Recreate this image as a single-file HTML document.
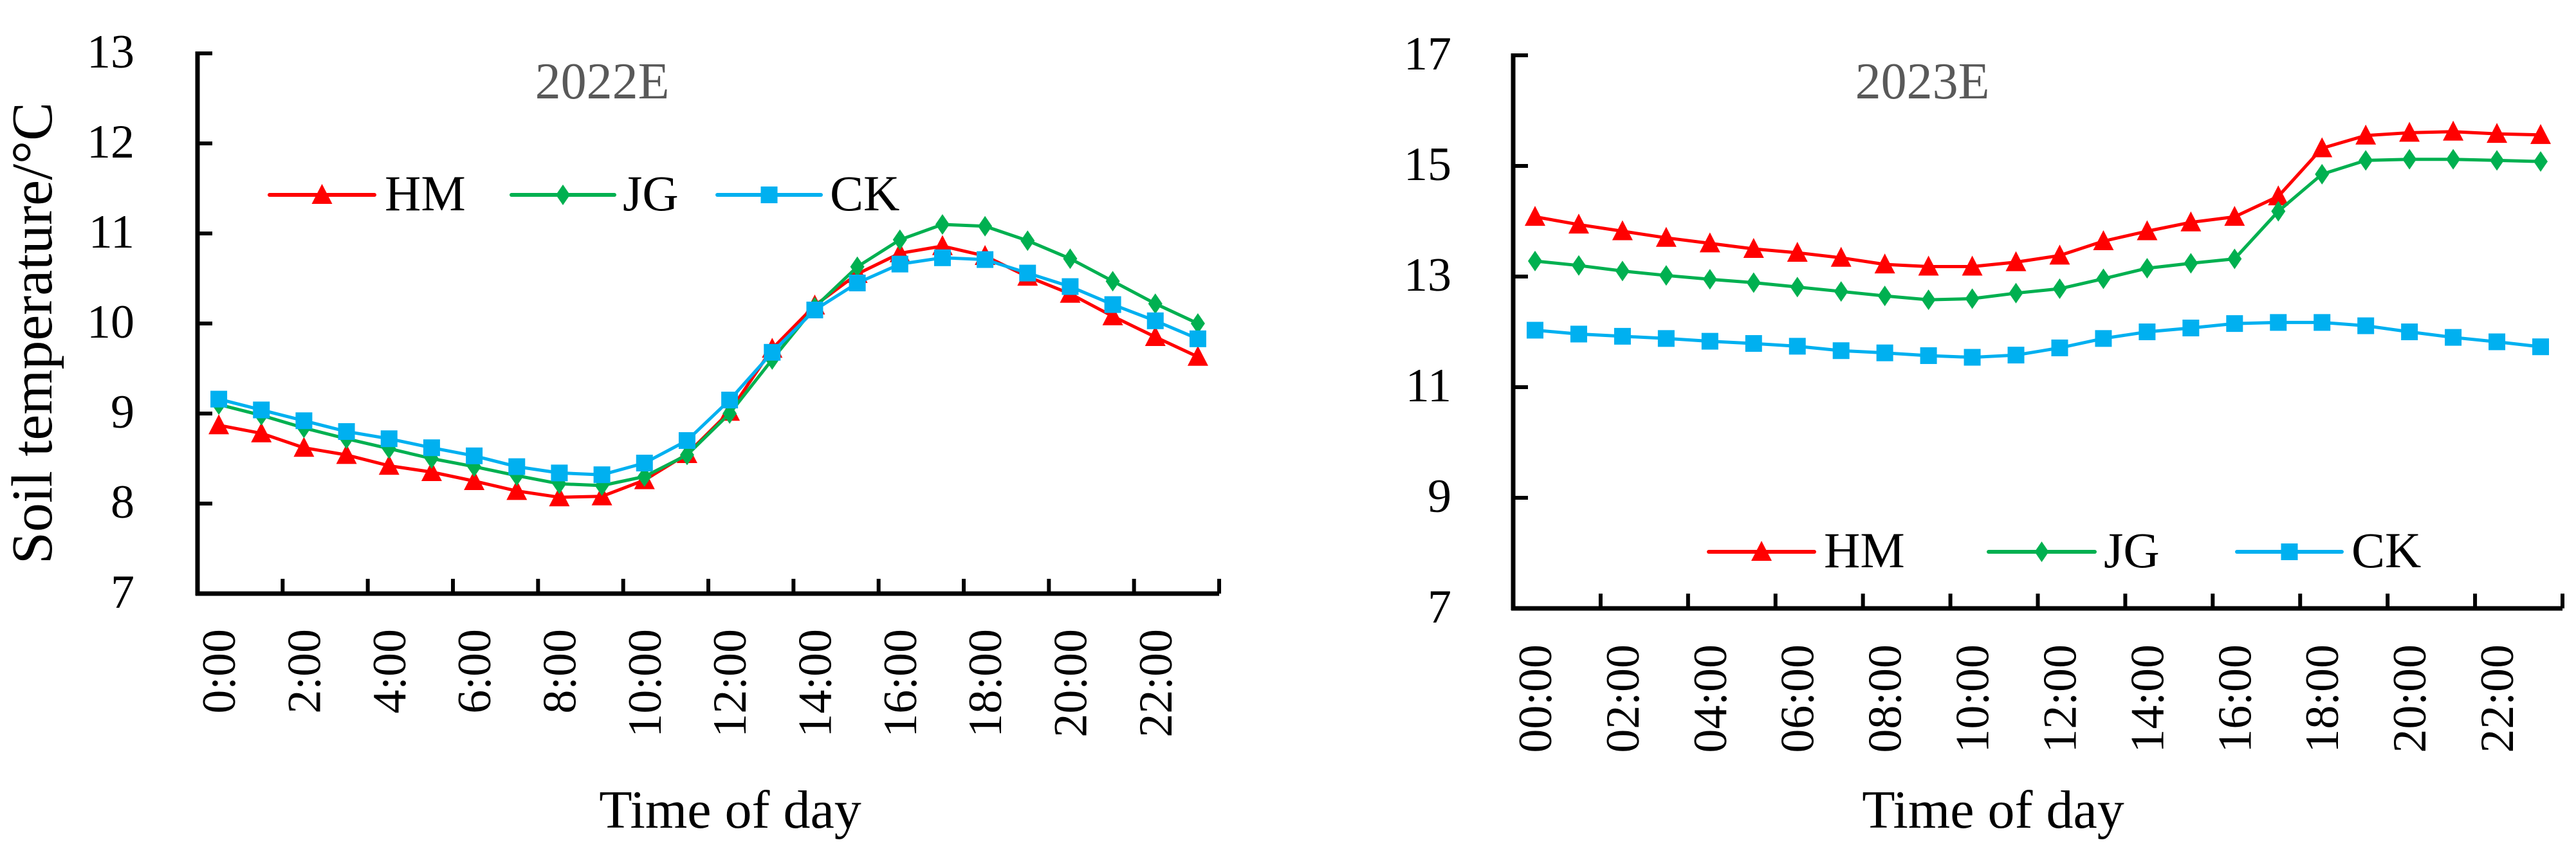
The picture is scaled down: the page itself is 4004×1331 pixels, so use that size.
<!DOCTYPE html>
<html><head><meta charset="utf-8"><style>
html,body{margin:0;padding:0;background:#fff;}
svg{display:block;}
text{font-family:"Liberation Serif",serif;}
</style></head><body>
<svg id="chart" width="4004" height="1331" viewBox="0 0 4004 1331" xmlns="http://www.w3.org/2000/svg">
<g id="left"></g>
<g id="right"></g>
</svg>
<script>
const categoriesLeft = ["0:00","1:00","2:00","3:00","4:00","5:00","6:00","7:00","8:00","9:00","10:00","11:00","12:00","13:00","14:00","15:00","16:00","17:00","18:00","19:00","20:00","21:00","22:00","23:00"];
const categoriesRight = ["00:00","01:00","02:00","03:00","04:00","05:00","06:00","07:00","08:00","09:00","10:00","11:00","12:00","13:00","14:00","15:00","16:00","17:00","18:00","19:00","20:00","21:00","22:00","23:00"];
const hm2022 = [8.87,8.78,8.62,8.54,8.42,8.35,8.25,8.14,8.07,8.08,8.26,8.55,9.02,9.72,10.2,10.55,10.78,10.86,10.75,10.52,10.33,10.08,9.85,9.63];
const jg2022 = [9.1,8.98,8.84,8.72,8.61,8.5,8.41,8.31,8.22,8.2,8.3,8.54,9.0,9.6,10.18,10.63,10.93,11.1,11.08,10.92,10.72,10.47,10.22,10.0];
const ck2022 = [9.16,9.04,8.92,8.8,8.72,8.62,8.53,8.41,8.34,8.32,8.45,8.7,9.15,9.68,10.15,10.45,10.66,10.73,10.71,10.56,10.41,10.21,10.03,9.83];
const hm2023 = [14.08,13.94,13.82,13.7,13.6,13.5,13.43,13.34,13.22,13.18,13.18,13.26,13.38,13.64,13.82,13.98,14.08,14.45,15.32,15.55,15.6,15.62,15.58,15.56];
const jg2023 = [13.28,13.2,13.1,13.02,12.95,12.89,12.81,12.73,12.65,12.58,12.6,12.7,12.78,12.96,13.15,13.24,13.32,14.18,14.85,15.1,15.12,15.12,15.1,15.08];
const ck2023 = [12.03,11.96,11.92,11.88,11.83,11.79,11.74,11.66,11.62,11.57,11.54,11.58,11.71,11.88,12.0,12.07,12.15,12.17,12.17,12.11,12.0,11.9,11.82,11.73];
const yTicksLeft = [7,8,9,10,11,12,13];
const yTicksRight = [7,9,11,13,15,17];
const seriesNames = ["HM","JG","CK"];

const NS="http://www.w3.org/2000/svg";
const COLORS={HM:"#ff0000",JG:"#00b050",CK:"#00b0f0"};
function mk(parent,tag,attrs,txt){const e=document.createElementNS(NS,tag);for(const k in attrs)e.setAttribute(k,attrs[k]);if(txt!==undefined)e.textContent=txt;parent.appendChild(e);return e;}
function marker(g,name,x,y){
  let m;
  if(name==="HM") m=mk(g,"polygon",{points:`${x},${y-17} ${x-16},${y+14} ${x+16},${y+14}`,fill:COLORS.HM});
  else if(name==="JG") m=mk(g,"polygon",{points:`${x},${y-16} ${x+11},${y} ${x},${y+16} ${x-11},${y}`,fill:COLORS.JG});
  else m=mk(g,"rect",{x:x-13,y:y-13,width:26,height:26,fill:COLORS.CK});
  return m;
}
function drawChart(g,cfg){
  const {x0,x1,yTop,yBot,vmin,vmax,cats,yTicks,series,title,titleX,legend,labelTop,xTitleX,yLabelRight,yAxisTitle}=cfg;
  const n=cats.length, band=(x1-x0)/n;
  const X=i=>x0+band*(i+0.5);
  const Y=v=>yBot-(v-vmin)/(vmax-vmin)*(yBot-yTop);
  yTicks.forEach(t=>{
    const tk=mk(g,"line",{x1:x0,x2:x0+23,y1:Y(t),y2:Y(t),stroke:"#000","stroke-width":6});
    
    
    const lb=mk(g,"text",{x:yLabelRight,y:Y(t)+22,"text-anchor":"end","font-size":74,fill:"#000"},String(t));
    
    
  });
  for(let i=2;i<n;i+=2){
    const xx=x0+band*i;
    const tk=mk(g,"line",{x1:xx,x2:xx,y1:yBot,y2:yBot-23,stroke:"#000","stroke-width":6});
    
    
  }
  const ya=mk(g,"line",{x1:x0,x2:x0,y1:yTop-3,y2:yBot+3,stroke:"#000","stroke-width":7});
  
  
  const xa=mk(g,"line",{x1:x0-3,x2:x1,y1:yBot,y2:yBot,stroke:"#000","stroke-width":7});
  
  
  const ek=mk(g,"line",{x1:x1,x2:x1,y1:yBot,y2:yBot-23,stroke:"#000","stroke-width":6});
  
  
  for(let i=0;i<n;i+=2){
    const lb=mk(g,"text",{transform:`translate(${X(i)+25},${labelTop}) rotate(-90)`,"text-anchor":"end","font-size":74,fill:"#000"},cats[i]);
    
    
  }
  series.forEach(s=>{
    const sg=mk(g,"g",{});
    
    
    const pts=s.values.map((v,i)=>`${X(i).toFixed(1)},${Y(v).toFixed(1)}`).join(" ");
    const pl=mk(sg,"polyline",{points:pts,fill:"none",stroke:COLORS[s.name],"stroke-width":5,"stroke-linejoin":"round"});
    
    
    s.values.forEach((v,i)=>{
      const m=marker(sg,s.name,X(i),Y(v));
      
      
    });
  });
  const tt=mk(g,"text",{x:titleX,y:153,"text-anchor":"middle","font-size":80,fill:"#595959"},title);
  
  
  const lg=mk(g,"g",{});
  
  
  legend.items.forEach((it,k)=>{
    const eg=mk(lg,"g",{});
    
    
    const ln=mk(eg,"line",{x1:it.l0,x2:it.l1,y1:legend.y,y2:legend.y,stroke:COLORS[seriesNames[k]],"stroke-width":6,"stroke-linecap":"round"});
    
    
    const mm=marker(eg,seriesNames[k],(it.l0+it.l1)/2,legend.y);
    
    
    const tx=mk(eg,"text",{x:it.t,y:legend.y+24,"font-size":78,fill:"#000"},seriesNames[k]);
    
    
  });
  const xt=mk(g,"text",{x:xTitleX,y:1287,"text-anchor":"middle","font-size":84,fill:"#000"},"Time of day");
  
  
  if(yAxisTitle){
    const yt=mk(g,"text",{transform:"translate(80,518) rotate(-90)","text-anchor":"middle","font-size":90,fill:"#000"},"Soil temperature/°C");
    
    
  }
}
drawChart(document.getElementById("left"),{
  x0:307,x1:1895,yTop:83,yBot:923,vmin:7,vmax:13,cats:categoriesLeft,yTicks:yTicksLeft,
  series:[{name:"HM",values:hm2022},{name:"JG",values:jg2022},{name:"CK",values:ck2022}],
  title:"2022E",titleX:936,labelTop:978,xTitleX:1135,yLabelRight:209,yAxisTitle:true,
  legend:{y:303,items:[{l0:419,l1:582,t:598},{l0:795,l1:955,t:968},{l0:1115,l1:1276,t:1290}]}
});
drawChart(document.getElementById("right"),{
  x0:2352,x1:3983,yTop:86,yBot:946,vmin:7,vmax:17,cats:categoriesRight,yTicks:yTicksRight,
  series:[{name:"HM",values:hm2023},{name:"JG",values:jg2023},{name:"CK",values:ck2023}],
  title:"2023E",titleX:2988,labelTop:1002,xTitleX:3098,yLabelRight:2256,yAxisTitle:false,
  legend:{y:858,items:[{l0:2656,l1:2820,t:2835},{l0:3091,l1:3256,t:3270},{l0:3477,l1:3640,t:3655}]}
});
</script>
</body></html>
